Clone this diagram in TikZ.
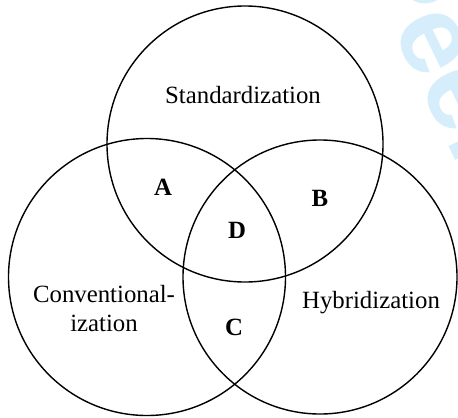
\documentclass[tikz,border=0pt]{standalone}
\usepackage{fontspec}
\setmainfont{Liberation Serif}
\newfontfamily\wmfont{Liberation Sans}
\definecolor{wmcyan}{RGB}{214,238,251}

\begin{document}
\begin{tikzpicture}[x=0.5pt,y=-0.5pt]
				\tikzstyle{every node}+=[inner sep=0pt,font=\fontsize{12.4}{14.5}\selectfont]
				\useasboundingbox (0,0) rectangle (458,417);
				\clip (0,0) rectangle (458,417);
				\node [rotate=-64,text=wmcyan,font=\wmfont\bfseries\fontsize{56}{60}\selectfont] (wm) at (446,53) {Peer};
				\draw [black,line width=0.7pt] (245,144) circle (138);
				\draw [black,line width=0.7pt] (147,277) circle (138.5);
				\draw [black,line width=0.7pt] (320,277) circle (137);
				\node (std) at (243,95) {Standardization};
				\node [align=center] (conv) at (104,309) {Conventional-\\ization};
				\node (hyb) at (371,303) {Hybridization};
				\node [font=\fontsize{12.4}{14.5}\selectfont\bfseries] (A) at (163,187) {A};
				\node [font=\fontsize{12.4}{14.5}\selectfont\bfseries] (B) at (320,198) {B};
				\node [font=\fontsize{12.4}{14.5}\selectfont\bfseries] (C) at (234,327) {C};
				\node [font=\fontsize{12.4}{14.5}\selectfont\bfseries] (D) at (237,230) {D};
\end{tikzpicture}
\end{document}
